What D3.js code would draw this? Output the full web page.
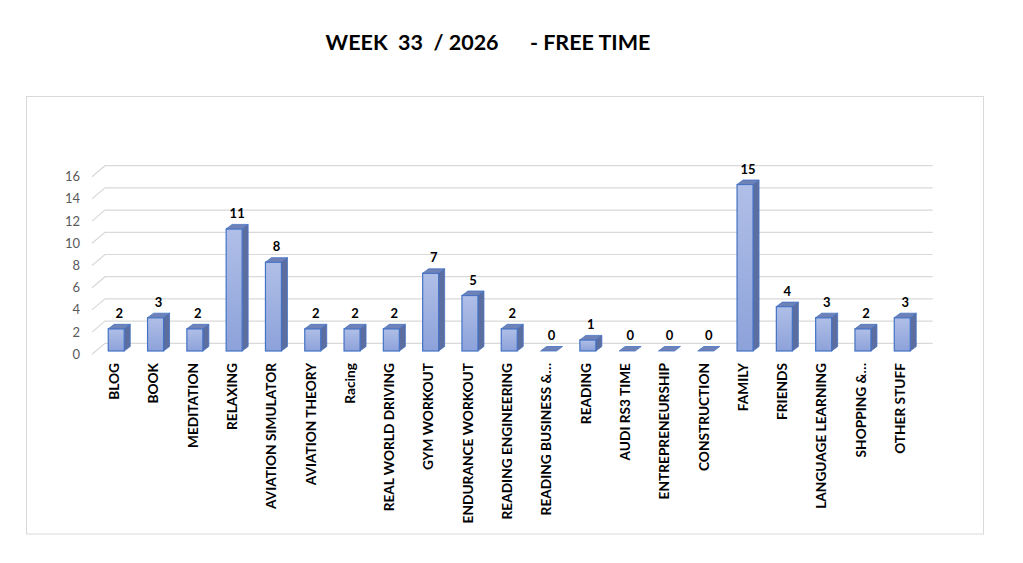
<!DOCTYPE html>
<html>
<head>
<meta charset="utf-8">
<script src="https://cdn.jsdelivr.net/npm/d3@7/dist/d3.min.js"></script>
<style>
  html, body { margin: 0; padding: 0; background: #fff; }
  svg { display: block; }
  text { font-family: Lato, "Open Sans", sans-serif; }
</style>
</head>
<body>
<svg id="chart" width="1023" height="563"></svg>
<script>
const title = "WEEK  33  / 2026      - FREE TIME";
const categories = ["BLOG","BOOK","MEDITATION","RELAXING","AVIATION SIMULATOR","AVIATION THEORY","Racing","REAL WORLD DRIVING","GYM WORKOUT","ENDURANCE WORKOUT","READING ENGINEERING","READING BUSINESS &…","READING","AUDI RS3 TIME","ENTREPRENEURSHIP","CONSTRUCTION","FAMILY","FRIENDS","LANGUAGE LEARNING","SHOPPING &…","OTHER STUFF"];
const values = [2,3,2,11,8,2,2,2,7,5,2,0,1,0,0,0,15,4,3,2,3];
const yTicks = [0,2,4,6,8,10,12,14,16];

const svg = d3.select("#chart");

const defs = svg.append("defs");
const grad = defs.append("linearGradient").attr("id","barGrad").attr("x1",0).attr("y1",0).attr("x2",0).attr("y2",1);
grad.append("stop").attr("offset","0%").attr("stop-color","#b0bfe7");
grad.append("stop").attr("offset","100%").attr("stop-color","#8da2da");

svg.append("rect").attr("x",26.5).attr("y",96.5).attr("width",957).attr("height",437.5)
  .attr("fill","none").attr("stroke","#d9d9d9").attr("stroke-width",1);

svg.append("text").attr("x",488).attr("y",50).attr("text-anchor","middle")
  .attr("font-size",21.5).attr("font-weight","bold").attr("fill","#000")
  .style("white-space","pre").attr("xml:space","preserve").text(title);

const x = d3.scaleBand().domain(categories).range([96.6, 921.9])
  .paddingInner(0.593).paddingOuter(0.2965);
const y = d3.scaleLinear().domain([0,16]).range([351, 351 - 16*11.1]);

const wallFront = { dx: -3.5, dy: 3.3 };
const wallBack = { dx: 9.5, dy: -7.7 };
const bd = { dx: 6, dy: -4.5 };
const xLeftFront = 92, xRightBack = 932.7;

const grid = svg.append("g");
yTicks.forEach(t => {
  const yf = y(t) + wallFront.dy;
  const yb = y(t) + wallBack.dy;
  grid.append("path")
    .attr("d", `M${xLeftFront},${yf}L${xLeftFront + 13},${yb}L${xRightBack},${yb}`)
    .attr("fill","none").attr("stroke","#d9d9d9").attr("stroke-width",1.2);
});

svg.append("g").selectAll("text").data(yTicks).join("text")
  .attr("x",80).attr("y",d => y(d) + wallFront.dy).attr("dy","0.35em")
  .attr("text-anchor","end").attr("font-size",13).attr("fill","#595959")
  .text(d => d);

const bars = svg.append("g").selectAll("g").data(categories).join("g");
bars.each(function(c, i) {
  const g = d3.select(this);
  const v = values[i];
  const x0 = x(c), x1 = x(c) + x.bandwidth();
  const yt = y(v), yb = y(0);
  if (v > 0) {
    g.append("path")
      .attr("d", `M${x1},${yt}L${x1+bd.dx},${yt+bd.dy}L${x1+bd.dx},${yb+bd.dy}L${x1},${yb}Z`)
      .attr("fill","#5c6e9f").attr("stroke","#4472c4").attr("stroke-width",0.8).attr("stroke-linejoin","round");
    g.append("rect").attr("x",x0).attr("y",yt).attr("width",x1-x0).attr("height",yb-yt)
      .attr("fill","url(#barGrad)").attr("stroke","#4472c4").attr("stroke-width",1.2);
  }
  g.append("path")
    .attr("d", `M${x0},${yt}L${x0+bd.dx},${yt+bd.dy}L${x1+bd.dx},${yt+bd.dy}L${x1},${yt}Z`)
    .attr("fill","#6f82b8").attr("stroke","#4472c4").attr("stroke-width",0.8).attr("stroke-linejoin","round");
});

svg.append("g").selectAll("text").data(categories).join("text")
  .attr("x", c => x(c) + x.bandwidth()/2 + 3)
  .attr("y", (c,i) => y(values[i]) - 11)
  .attr("text-anchor","middle").attr("font-size",13).attr("font-weight","bold").attr("fill","#000")
  .text((c,i) => values[i]);

svg.append("g").selectAll("text").data(categories).join("text")
  .attr("transform", c => `translate(${x(c) + x.bandwidth()/2 - 2},363) rotate(-90)`)
  .attr("dy","0.35em").attr("text-anchor","end")
  .attr("font-size",13.7).attr("font-weight","bold").attr("fill","#000")
  .text(c => c);
</script>
</body>
</html>
